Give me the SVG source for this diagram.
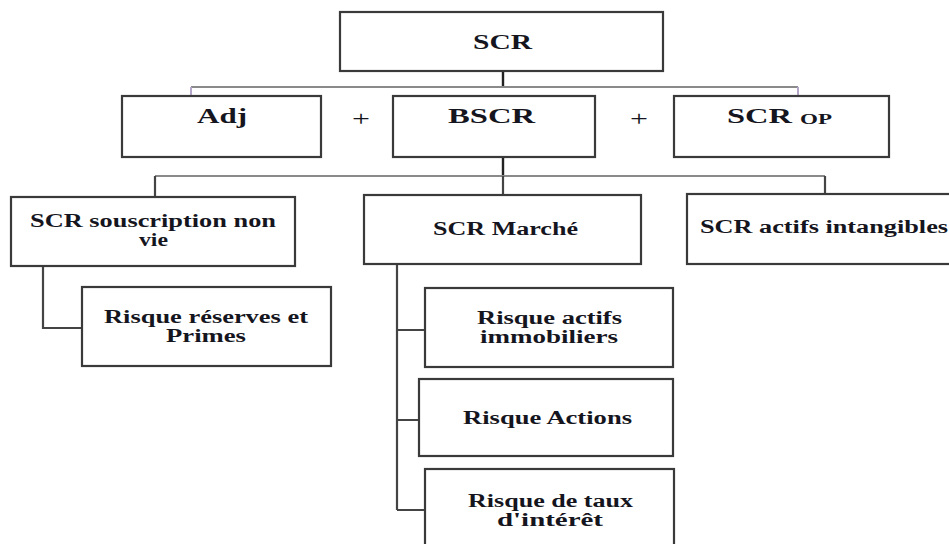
<svg xmlns="http://www.w3.org/2000/svg" width="949" height="544" viewBox="0 0 949 544">
<style>
.box{fill:#ffffff;stroke:#3a3a3a;stroke-width:2.2}
.t{font-family:"Liberation Serif","Times New Roman",serif;font-weight:bold;fill:#151520}
.l2{font-size:22px}
.l3{font-size:18px}
.sub{font-size:15px}
.cg{stroke:#8a8a8a;stroke-width:2;fill:none}
.ck{stroke:#222;stroke-width:2.4;fill:none}
.cd{stroke:#444;stroke-width:2.2;fill:none}
.cp{stroke:#b4a6c8;stroke-width:2;fill:none}
</style>
<rect width="949" height="544" fill="#ffffff"/>
<g id="connectors">
<path class="ck" d="M503 71V87"/>
<path class="cg" d="M191 87H798"/>
<path class="cp" d="M191 87V96M798 87V96"/>
<path class="ck" d="M503 157V176"/>
<path class="cg" d="M155 176H825"/>
<path class="cd" d="M155 176V197M503 176V195M825 176V194"/>
<path class="cd" d="M43 266V328H82"/>
<path class="cd" d="M397 264V510M397 330H425M397 420H419M397 510H425"/>
</g>
<g id="scr">
<rect class="box" x="340" y="12" width="323" height="59"/>
<text class="t l2" x="473" y="49" textLength="59" lengthAdjust="spacingAndGlyphs">SCR</text>
</g>
<g id="adj">
<rect class="box" x="122" y="96" width="199" height="61"/>
<text class="t l2" x="197" y="123" textLength="50" lengthAdjust="spacingAndGlyphs">Adj</text>
</g>
<g id="plus1"><text class="t l2" x="352" y="126" textLength="18" lengthAdjust="spacingAndGlyphs" style="font-weight:normal">+</text></g>
<g id="bscr">
<rect class="box" x="393" y="96" width="202" height="61"/>
<text class="t l2" x="448" y="123" textLength="87" lengthAdjust="spacingAndGlyphs">BSCR</text>
</g>
<g id="plus2"><text class="t l2" x="630" y="126" textLength="18" lengthAdjust="spacingAndGlyphs" style="font-weight:normal">+</text></g>
<g id="scrop">
<rect class="box" x="674" y="96" width="215" height="61"/>
<text class="t l2" x="727" y="123"><tspan textLength="65" lengthAdjust="spacingAndGlyphs">SCR</tspan><tspan class="sub" x="800" y="124" textLength="32" lengthAdjust="spacingAndGlyphs">OP</tspan></text>
</g>
<g id="souscription">
<rect class="box" x="11" y="197" width="284" height="69"/>
<text class="t l3"><tspan x="30" y="227" textLength="246" lengthAdjust="spacingAndGlyphs">SCR souscription non</tspan><tspan x="139" y="246" textLength="29" lengthAdjust="spacingAndGlyphs">vie</tspan></text>
</g>
<g id="reserves">
<rect class="box" x="82" y="287" width="249" height="79"/>
<text class="t l3"><tspan x="104" y="323" textLength="204" lengthAdjust="spacingAndGlyphs">Risque réserves et</tspan><tspan x="166" y="342" textLength="80" lengthAdjust="spacingAndGlyphs">Primes</tspan></text>
</g>
<g id="marche">
<rect class="box" x="364" y="195" width="277" height="69"/>
<text class="t l3" x="433" y="235" textLength="145" lengthAdjust="spacingAndGlyphs">SCR Marché</text>
</g>
<g id="intangibles">
<rect class="box" x="687" y="194" width="280" height="70"/>
<text class="t l3" x="700" y="233" textLength="248" lengthAdjust="spacingAndGlyphs">SCR actifs intangibles</text>
</g>
<g id="immobiliers">
<rect class="box" x="425" y="288" width="248" height="79"/>
<text class="t l3"><tspan x="477" y="324" textLength="145" lengthAdjust="spacingAndGlyphs">Risque actifs</tspan><tspan x="480" y="343" textLength="138" lengthAdjust="spacingAndGlyphs">immobiliers</tspan></text>
</g>
<g id="actions">
<rect class="box" x="419" y="379" width="254" height="77"/>
<text class="t l3" x="463" y="424" textLength="169" lengthAdjust="spacingAndGlyphs">Risque Actions</text>
</g>
<g id="taux">
<rect class="box" x="425" y="469" width="249" height="90"/>
<text class="t l3"><tspan x="468" y="507" textLength="165" lengthAdjust="spacingAndGlyphs">Risque de taux</tspan><tspan x="497" y="526" textLength="106" lengthAdjust="spacingAndGlyphs">d'intérêt</tspan></text>
</g>
</svg>
